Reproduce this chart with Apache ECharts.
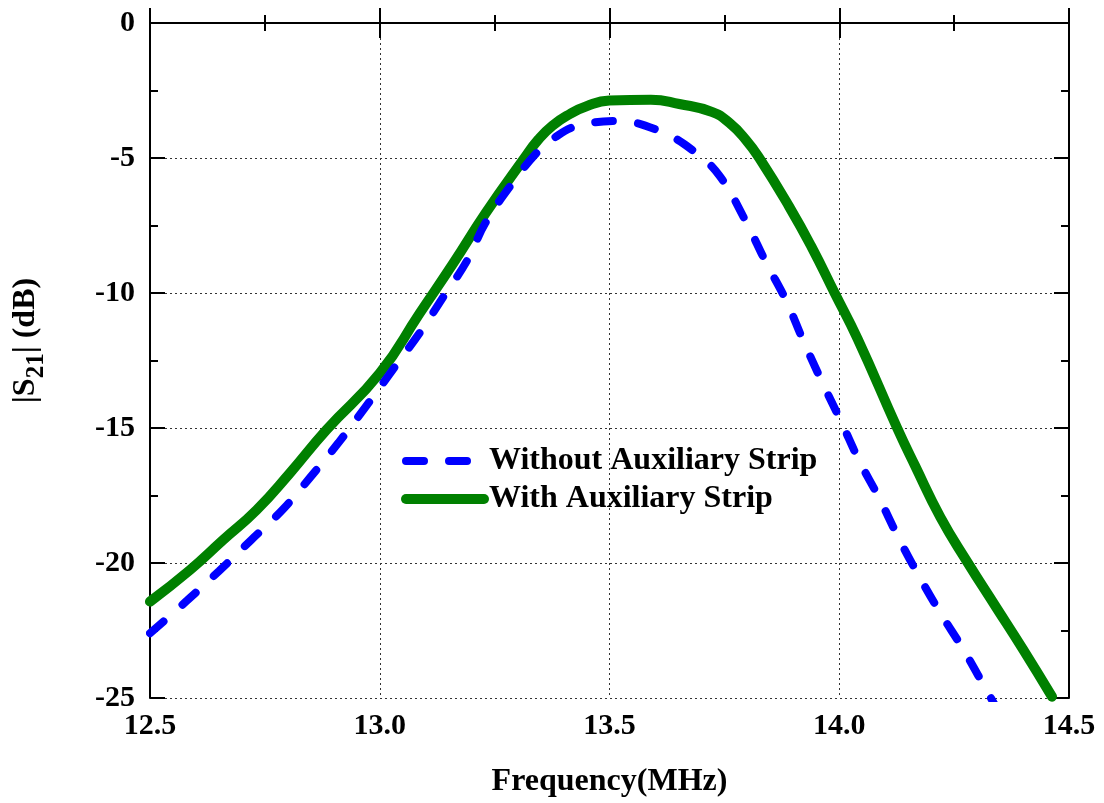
<!DOCTYPE html>
<html>
<head>
<meta charset="utf-8">
<script src="https://cdn.jsdelivr.net/npm/echarts@6/dist/echarts.min.js"></script>
<style>
  html, body { margin: 0; padding: 0; background: #fff; }
  #chart { width: 1104px; height: 803px; }
</style>
</head>
<body>
<div id="chart"></div>
<script>
// 不带辅助带
const freqWithout = [12.50, 12.58, 12.65, 12.72, 12.79, 12.85, 12.91, 12.97, 13.03, 13.09, 13.14, 13.19, 13.23, 13.29, 13.343, 13.38, 13.428, 13.52, 13.609, 13.683, 13.74, 13.797, 13.84, 13.885, 13.92, 13.96, 14.005, 14.043, 14.087, 14.13, 14.174, 14.22, 14.27, 14.32, 14.34]
const s21Without = [-22.6, -21.4, -20.3, -19.15, -18.0, -16.8, -15.55, -14.2, -12.8, -11.4, -10.1, -8.8, -7.4, -5.9, -4.78, -4.25, -3.82, -3.63, -4.0, -4.74, -5.67, -7.36, -8.85, -10.3, -11.7, -13.2, -14.8, -16.2, -17.6, -19.1, -20.5, -21.85, -23.2, -24.7, -25.3]
// 带辅助带
const freqWith = [12.50, 12.587, 12.659, 12.732, 12.804, 12.884, 13.00, 13.087, 13.16, 13.23, 13.315, 13.345, 13.376, 13.413, 13.45, 13.50, 13.59, 13.652, 13.724, 13.761, 13.797, 13.826, 13.891, 13.94, 13.99, 14.04, 14.126, 14.165, 14.22, 14.28, 14.34, 14.40, 14.463]
const s21With = [-21.43, -20.26, -19.15, -18.04, -16.68, -15.07, -12.97, -10.75, -8.9, -7.05, -5.0, -4.32, -3.8, -3.38, -3.08, -2.87, -2.84, -3.0, -3.3, -3.7, -4.33, -5.0, -6.8, -8.3, -10.0, -11.7, -15.0, -16.4, -18.3, -20.0, -21.6, -23.2, -24.95]
const seriesNames = ['Without Auxiliary Strip', 'With Auxiliary Strip']

const font = 'Liberation Serif'
const pairs = (xs, ys) => xs.map((x, i) => [x, ys[i]])

let myChart = echarts.init(document.getElementById('chart'))

const boxAxisLine = { show: true, lineStyle: { color: '#000', width: 2 } }
const tickIn = { show: true, inside: true, length: 15, lineStyle: { color: '#000', width: 2 } }
const minorIn = { show: true, splitNumber: 2, length: 8, lineStyle: { color: '#000', width: 2 } }
const gridLine = { show: true, lineStyle: { color: '#333', width: 1, type: [2, 3] } }

let option = {
  animation: false,
  grid: { left: 150, right: 35, top: 23, bottom: 105, containLabel: false, outerBoundsMode: 'none' },
  legend: {
    orient: 'vertical',
    left: 396,
    top: 440,
    itemWidth: 78,
    itemHeight: 16,
    itemGap: 6,
    lineStyle: { width: 'inherit', cap: 'inherit', type: 'inherit' },
    itemStyle: { opacity: 0 },
    textStyle: { fontFamily: font, fontWeight: 'bold', fontSize: 32, color: '#000' },
    data: seriesNames,
  },
  xAxis: [
    {
      type: 'value',
      min: 12.5,
      max: 14.5,
      interval: 0.5,
      name: 'Frequency(MHz)',
      nameLocation: 'middle',
      nameGap: 68,
      nameTextStyle: { fontFamily: font, fontWeight: 'bold', fontSize: 32, color: '#000' },
      axisLine: boxAxisLine,
      axisTick: tickIn,
      minorTick: minorIn,
      axisLabel: {
        margin: 13,
        fontFamily: font,
        fontWeight: 'bold',
        fontSize: 30,
        color: '#000',
        formatter: (v) => v.toFixed(1),
      },
      splitLine: gridLine,
    },
    {
      type: 'value',
      position: 'top',
      min: 12.5,
      max: 14.5,
      interval: 0.5,
      axisLine: boxAxisLine,
      axisTick: tickIn,
      minorTick: minorIn,
      axisLabel: { show: false },
      splitLine: { show: false },
    },
  ],
  yAxis: [
    {
      type: 'value',
      min: -25,
      max: 0,
      interval: 5,
      name: '{t||S}{s|21}{t|| (dB)}',
      nameLocation: 'middle',
      nameRotate: 90,
      nameGap: 100,
      nameTextStyle: {
        fontFamily: font,
        fontWeight: 'bold',
        color: '#000',
        padding: [0, 0, 0, 40],
        rich: {
          t: { fontFamily: font, fontWeight: 'bold', fontSize: 32, color: '#000', lineHeight: 40, verticalAlign: 'top' },
          s: { fontFamily: font, fontWeight: 'bold', fontSize: 25, color: '#000', lineHeight: 40, padding: [14, 0, 0, 0], verticalAlign: 'top' },
        },
      },
      axisLine: boxAxisLine,
      axisTick: tickIn,
      minorTick: minorIn,
      axisLabel: {
        margin: 15,
        fontFamily: font,
        fontWeight: 'bold',
        fontSize: 30,
        color: '#000',
      },
      splitLine: gridLine,
    },
    {
      type: 'value',
      position: 'right',
      min: -25,
      max: 0,
      interval: 5,
      axisLine: boxAxisLine,
      axisTick: tickIn,
      minorTick: minorIn,
      axisLabel: { show: false },
      splitLine: { show: false },
    },
  ],
  series: [
    {
      name: seriesNames[0],
      type: 'line',
      smooth: 0.4,
      showSymbol: false,
      symbol: 'none',
      z: 3,
      lineStyle: { color: '#0000ff', width: 8, type: [18, 25], cap: 'round' },
      itemStyle: { color: '#0000ff' },
      data: pairs(freqWithout, s21Without),
    },
    {
      name: seriesNames[1],
      type: 'line',
      smooth: 0.5,
      showSymbol: false,
      symbol: 'none',
      z: 2,
      lineStyle: { color: '#008000', width: 10, cap: 'round' },
      itemStyle: { color: '#008000' },
      data: pairs(freqWith, s21With),
    },
  ],
}
myChart.setOption(option)
</script>
</body>
</html>
